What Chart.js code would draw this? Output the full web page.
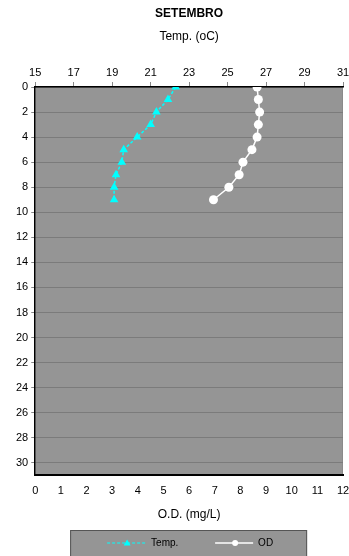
<!DOCTYPE html>
<html lang="pt">
<head>
  <meta charset="UTF-8">
  <title>SETEMBRO</title>
  <script src="https://cdn.jsdelivr.net/npm/chart.js"></script>
  <style>
    body { margin: 0; background: #fff; }
    canvas { display: block; }
  </style>
</head>
<body>
  <canvas id="perfil" width="349" height="556"></canvas>

  <script>
    // profundidade (m) e leituras
    const depths = [0, 1, 2, 3, 4, 5, 6, 7, 8, 9];
    const temp = [22.3, 21.9, 21.3, 21.0, 20.3, 19.6, 19.5, 19.2, 19.1, 19.1];
    const od = [8.65, 8.7, 8.75, 8.7, 8.65, 8.45, 8.1, 7.95, 7.55, 6.95];

    const plotGray = '#959595';
    const gridGray = '#7b7b7b';

    Chart.defaults.font.family = '"Liberation Sans", Arial, sans-serif';
    Chart.defaults.font.size = 11;
    Chart.defaults.color = '#000';

    // o Excel deixa o "31" e o "12" cortados na borda, sem margem extra
    const semMargemDireita = scale => { scale.paddingRight = 0; };

    const fundo = {
      id: 'fundo',
      beforeDraw(chart) {
        const { ctx, chartArea: a } = chart;
        ctx.save();
        ctx.fillStyle = plotGray;
        ctx.fillRect(a.left, a.top, a.right - a.left, a.bottom - a.top);
        ctx.strokeStyle = '#8a8a8a';
        ctx.lineWidth = 1;
        ctx.beginPath();
        ctx.moveTo(a.right - 0.5, a.top);
        ctx.lineTo(a.right - 0.5, a.bottom);
        ctx.stroke();
        ctx.restore();
      }
    };

    // legenda desenhada à mão (linha + marcador, como no Excel)
    const legenda = {
      id: 'legenda',
      afterDraw(chart) {
        const { ctx, chartArea: a } = chart;
        const cx = (a.left + a.right) / 2;
        const y = 543;
        ctx.save();
        ctx.fillStyle = plotGray;
        ctx.fillRect(cx - 119, 530, 237, 30);
        ctx.strokeStyle = '#555';
        ctx.lineWidth = 1;
        ctx.strokeRect(cx - 118.5, 530.5, 236, 30);

        // Temp.
        ctx.strokeStyle = '#00ffff';
        ctx.fillStyle = '#00ffff';
        ctx.setLineDash([3, 2]);
        ctx.beginPath();
        ctx.moveTo(cx - 82, y);
        ctx.lineTo(cx - 42, y);
        ctx.stroke();
        ctx.setLineDash([]);
        ctx.beginPath();
        ctx.moveTo(cx - 62, y - 3.5);
        ctx.lineTo(cx - 58.5, y + 2.5);
        ctx.lineTo(cx - 65.5, y + 2.5);
        ctx.closePath();
        ctx.fill();

        // OD
        ctx.strokeStyle = '#fff';
        ctx.fillStyle = '#fff';
        ctx.lineWidth = 1.5;
        ctx.beginPath();
        ctx.moveTo(cx + 26, y);
        ctx.lineTo(cx + 64, y);
        ctx.stroke();
        ctx.beginPath();
        ctx.arc(cx + 46, y, 3, 0, Math.PI * 2);
        ctx.fill();

        ctx.fillStyle = '#000';
        ctx.font = '10px "Liberation Sans", Arial, sans-serif';
        ctx.textBaseline = 'middle';
        ctx.fillText('Temp.', cx - 38, y);
        ctx.fillText('OD', cx + 69, y);
        ctx.restore();
      }
    };

    new Chart(document.getElementById('perfil'), {
      type: 'scatter',
      data: {
        datasets: [
          {
            label: 'Temp.',
            data: depths.map((d, i) => ({ x: temp[i], y: d })),
            xAxisID: 'x2',
            showLine: true,
            borderColor: '#00ffff',
            backgroundColor: '#00ffff',
            borderWidth: 1.5,
            borderDash: [3, 2],
            pointStyle: 'triangle',
            pointRadius: 5,
            pointBorderWidth: 0
          },
          {
            label: 'OD',
            data: depths.map((d, i) => ({ x: od[i], y: d })),
            xAxisID: 'x',
            showLine: true,
            borderColor: '#ffffff',
            backgroundColor: '#ffffff',
            borderWidth: 1.5,
            pointStyle: 'circle',
            pointRadius: 4.5,
            pointBorderWidth: 0
          }
        ]
      },
      options: {
        responsive: false,
        animation: false,
        layout: { padding: { left: 13, right: 6, top: 0, bottom: 34 } },
        plugins: {
          legend: { display: false },
          tooltip: { enabled: false },
          title: {
            display: true,
            text: 'SETEMBRO',
            fullSize: false,
            font: { size: 12, weight: 'bold' },
            padding: { top: 6, bottom: 8 }
          }
        },
        scales: {
          x2: {
            type: 'linear',
            position: 'top',
            min: 15,
            max: 31,
            afterFit: semMargemDireita,
            ticks: { stepSize: 2, padding: 2 },
            grid: { drawOnChartArea: false, tickLength: 5, tickColor: '#888' },
            border: { color: '#000', width: 1.5 },
            title: { display: true, text: 'Temp. (oC)', font: { size: 12 }, padding: { top: 1, bottom: 21 } }
          },
          x: {
            type: 'linear',
            position: 'bottom',
            min: 0,
            max: 12,
            afterFit: semMargemDireita,
            ticks: { stepSize: 1, padding: 9 },
            grid: { drawOnChartArea: false, drawTicks: false },
            border: { color: '#000', width: 2 },
            title: { display: true, text: 'O.D. (mg/L)', font: { size: 12 }, padding: { top: 1, bottom: 0 } }
          },
          y: {
            reverse: true,
            min: 0,
            max: 31,
            ticks: { stepSize: 2, includeBounds: false, padding: 3 },
            grid: { color: gridGray, tickColor: '#888', tickLength: 4 },
            border: { color: '#000', width: 1.5 }
          }
        }
      },
      plugins: [fundo, legenda]
    });
  </script>
</body>
</html>
